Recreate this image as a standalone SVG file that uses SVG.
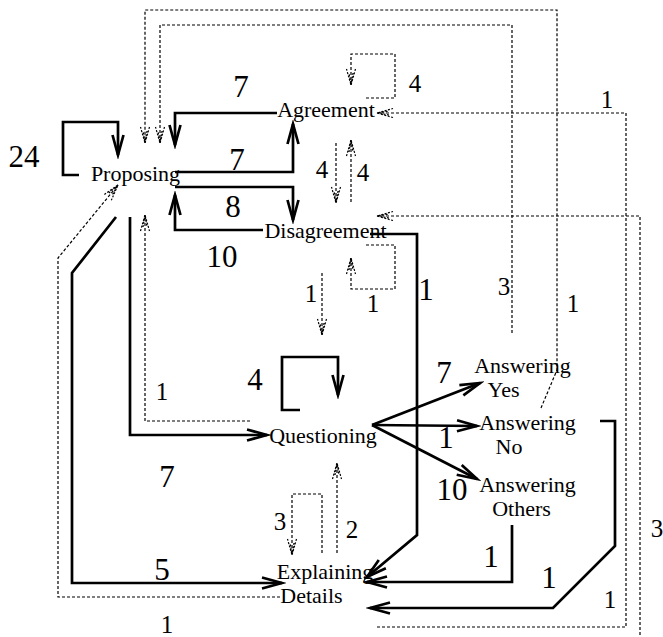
<svg xmlns="http://www.w3.org/2000/svg" width="663" height="637" viewBox="0 0 663 637">
<style>
.node{font-family:"Liberation Serif","Times New Roman",serif;font-size:22px;fill:#000;text-anchor:middle}
.big{font-family:"Liberation Serif","Times New Roman",serif;font-size:31px;fill:#000;text-anchor:middle}
.small{font-family:"Liberation Serif","Times New Roman",serif;font-size:25px;fill:#000;text-anchor:middle}
.s{fill:none;stroke:#000;stroke-width:2.7;marker-end:url(#ah)}
.d{fill:none;stroke:#000;stroke-width:1.2;stroke-dasharray:3 2;marker-end:url(#ad)}
</style>
<defs>
<marker id="ah" markerUnits="userSpaceOnUse" viewBox="-24 -10 28 20" markerWidth="28" markerHeight="20" refX="0" refY="0" orient="auto">
<path d="M-20,-5.5 L0,0 L-20,5.5" fill="none" stroke="#000" stroke-width="2.7"/>
</marker>
<marker id="ad" markerUnits="userSpaceOnUse" viewBox="-20 -8 24 16" markerWidth="24" markerHeight="16" refX="0" refY="0" orient="auto">
<path d="M-16,-4.5 L0,0 L-16,4.5 M-12,-2 L0,0 L-12,2" fill="none" stroke="#000" stroke-width="1.2" stroke-dasharray="2 1.5"/>
</marker>
</defs>
<rect width="663" height="637" fill="#fff"/>
<g id="connectors">
<path class="s" d="M277,113 H175 V145"/>
<path class="s" d="M175,172 H293 V124"/>
<path class="s" d="M175,187 H293 V220"/>
<path class="s" d="M263,230 H175 V195"/>
<path class="s" d="M79,175 H63 V122 H118 V155"/>
<path class="s" d="M116,217 L72,273 V583 H282"/>
<path class="s" d="M130,217 V435 H267"/>
<path class="s" d="M370,234 H417 V535 L367,577"/>
<path class="s" d="M300,410 H282 V357 H338 V395"/>
<path class="s" d="M372,425 L480,383"/>
<path class="s" d="M372,425 L477,426"/>
<path class="s" d="M372,425 L477,479"/>
<path class="s" d="M512,525 V582 H367"/>
<path class="s" d="M600,421 H615 V546 L553,608 H370"/>
<path class="d" d="M366,98 H395 V54 H351 V85"/>
<path class="d" d="M336,143 V203"/>
<path class="d" d="M351,202 V140"/>
<path class="d" d="M366,245 H395 V289 H351 V258"/>
<path class="d" d="M322,273 V335"/>
<path class="d" d="M250,421 H145 V215"/>
<path class="d" d="M322,553 V494 H292 V555"/>
<path class="d" d="M337,553 V463"/>
<path class="d" d="M280,597 H58 V258 L118,185"/>
<path class="d" d="M512,333 V25 H160 V143"/>
<path class="d" d="M541,408 L557,370 V10 H145 V143"/>
<path class="d" d="M377,627 H626 V113 H377"/>
<path class="d" d="M640,640 V216 H377"/>
<text class="big" x="241" y="97">7</text>
<text class="big" x="24" y="167">24</text>
<text class="big" x="237" y="170">7</text>
<text class="big" x="233" y="217">8</text>
<text class="big" x="222" y="267">10</text>
<text class="big" x="426" y="300">1</text>
<text class="big" x="255" y="390">4</text>
<text class="big" x="167" y="487">7</text>
<text class="big" x="162" y="580">5</text>
<text class="big" x="444" y="383">7</text>
<text class="big" x="446" y="448">1</text>
<text class="big" x="452" y="500">10</text>
<text class="big" x="491" y="567">1</text>
<text class="big" x="549" y="588">1</text>
<text class="small" x="415" y="92">4</text>
<text class="small" x="607" y="108">1</text>
<text class="small" x="322" y="178">4</text>
<text class="small" x="363" y="181">4</text>
<text class="small" x="311" y="302">1</text>
<text class="small" x="373" y="312">1</text>
<text class="small" x="504" y="295">3</text>
<text class="small" x="573" y="312">1</text>
<text class="small" x="162" y="400">1</text>
<text class="small" x="280" y="530">3</text>
<text class="small" x="352" y="538">2</text>
<text class="small" x="167" y="633">1</text>
<text class="small" x="657" y="537">3</text>
<text class="small" x="610" y="608">1</text>
</g>
<g id="proposing"><text class="node" x="135.5" y="181">Proposing</text></g>
<g id="agreement"><text class="node" x="326" y="117">Agreement</text></g>
<g id="disagreement"><text class="node" x="325.5" y="238">Disagreement</text></g>
<g id="questioning"><text class="node" x="323" y="443">Questioning</text></g>
<g id="answering-yes"><text class="node" x="522.5" y="373">Answering</text><text class="node" x="503.5" y="397">Yes</text></g>
<g id="answering-no"><text class="node" x="527.5" y="430">Answering</text><text class="node" x="509" y="454">No</text></g>
<g id="answering-others"><text class="node" x="527.5" y="492">Answering</text><text class="node" x="521.5" y="516">Others</text></g>
<g id="explaining-details"><text class="node" x="325" y="579">Explaining</text><text class="node" x="311.5" y="603">Details</text></g>
</svg>
